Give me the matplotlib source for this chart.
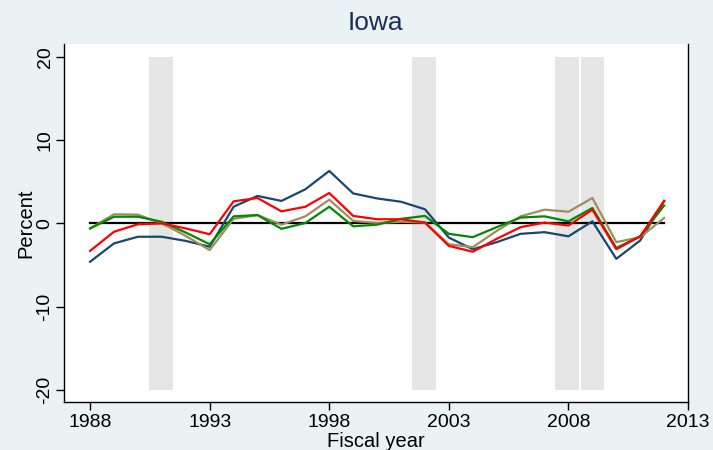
import matplotlib
matplotlib.use('Agg')
import matplotlib.pyplot as plt

plt.rcParams['font.family'] = ['Liberation Sans', 'DejaVu Sans']

years = list(range(1988, 2013))

# four series, percent
navy_vals = [-4.6, -2.4, -1.6, -1.6, -2.1, -2.8, 2.0, 3.3, 2.7, 4.1, 6.3, 3.6, 3.0, 2.6, 1.7,
             -1.7, -3.1, -2.25, -1.25, -1.05, -1.55, 0.25, -4.25, -2.05, 2.7]
red_vals = [-3.3, -1.0, -0.1, 0.0, -0.6, -1.3, 2.65, 3.05, 1.45, 2.0, 3.65, 0.9, 0.5, 0.5, 0.1,
            -2.7, -3.4, -1.85, -0.45, 0.1, -0.25, 1.65, -3.1, -1.55, 2.7]
green_vals = [-0.6, 0.8, 0.8, 0.2, -1.1, -2.5, 0.85, 1.0, -0.65, 0.05, 2.0, -0.35, -0.15, 0.55, 0.9,
              -1.25, -1.65, -0.45, 0.7, 0.85, 0.25, 1.85, -2.95, -1.55, 2.15]
tan_vals = [-0.6, 1.1, 1.05, 0.0, -1.5, -3.2, 0.55, 1.0, -0.15, 0.85, 2.85, 0.3, 0.05, 0.2, 0.1,
            -2.5, -2.85, -0.9, 0.85, 1.65, 1.4, 3.05, -2.25, -1.65, 0.65]

# recession shading (start, end) in fiscal years
rec_start = [1990.45, 2001.45, 2007.45, 2008.52]
rec_end = [1991.45, 2002.45, 2008.45, 2009.5]

bg = '#eaf2f3'
fig = plt.figure(figsize=(7.13, 4.5), dpi=100, facecolor=bg)
ax = fig.add_axes([0.0898, 0.1067, 0.8752, 0.7966])
ax.set_facecolor('white')

for s, e in zip(rec_start, rec_end):
    ax.fill_between([s, e], -20, 20, color='#e6e6e6', lw=0, zorder=1)

ax.plot([years[0], years[-1]], [0, 0], color='black', lw=1.6, zorder=2)

ax.plot(years, navy_vals, color='#1a476f', lw=1.6, zorder=3)
ax.plot(years, tan_vals, color='#a08c5e', lw=1.6, zorder=3)
ax.plot(years, green_vals, color='#008a00', lw=1.6, zorder=4)
ax.plot(years, red_vals, color='#ff0000', lw=1.6, zorder=5)

ax.set_xlim(1986.91, 2013)
ax.set_ylim(-21.44, 21.6)
ax.set_xticks([1988, 1993, 1998, 2003, 2008, 2013])
ax.set_yticks([-20, -10, 0, 10, 20])
ax.set_yticklabels(['-20', '-10', '0', '10', '20'], rotation=90, va='center')
ax.tick_params(axis='both', labelsize=14, length=5.5, width=1, direction='out', colors='black')
ax.tick_params(axis='x', pad=3)
ax.tick_params(axis='y', pad=2)

ax.spines['top'].set_visible(False)
for side in ['left', 'bottom', 'right']:
    ax.spines[side].set_color('black')
    ax.spines[side].set_linewidth(1.0)

ax.set_xlabel('Fiscal year', fontsize=14.5, labelpad=1)
ax.set_ylabel('Percent', fontsize=14.5, labelpad=1)
fig.text(0.527, 0.949, 'Iowa', ha='center', va='center', fontsize=19, color='#1a2f5e')

plt.savefig('out.png', dpi=100, facecolor=bg)
